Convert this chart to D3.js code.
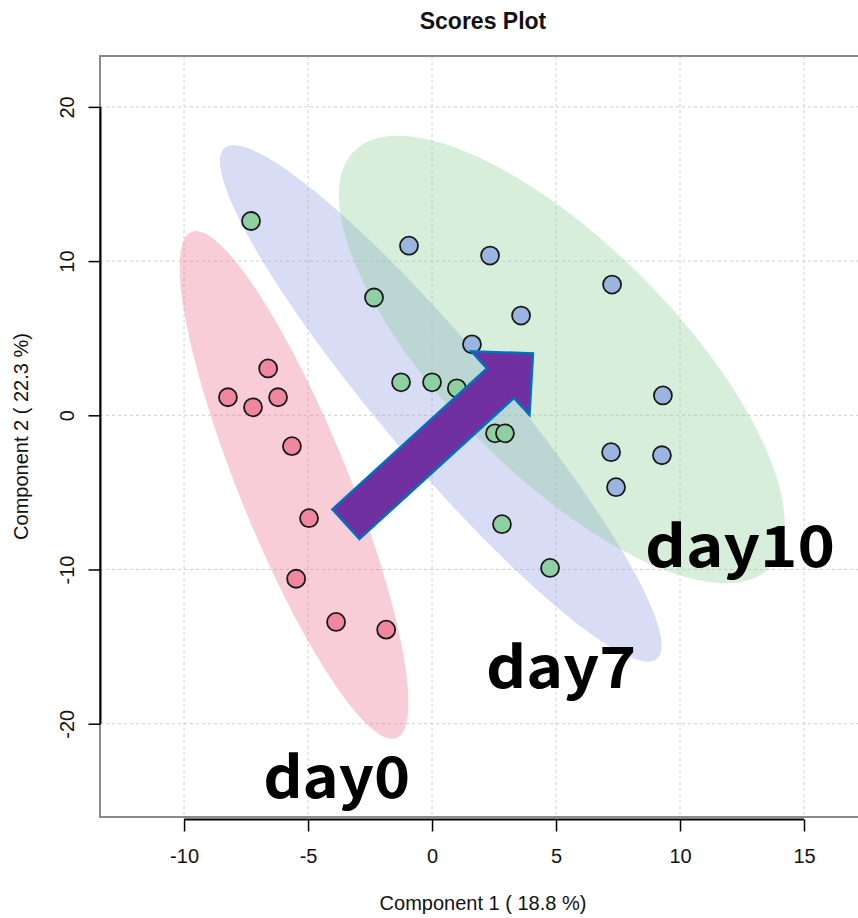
<!DOCTYPE html>
<html>
<head>
<meta charset="utf-8">
<script src="https://cdn.jsdelivr.net/npm/d3@7"></script>
<style>
  html, body { margin: 0; padding: 0; background: #fff; }
  svg { display: block; font-family: "Liberation Sans", Arial, sans-serif; }
</style>
</head>
<body>
<svg id="chart" width="858" height="918"></svg>
<script>
// scores (component 1, component 2)
const day0X = [-8.23, -7.22, -6.61, -6.21, -5.65, -4.96, -5.48, -3.87, -1.85];
const day0Y = [1.17, 0.52, 3.04, 1.17, -2.0, -6.67, -10.6, -13.4, -13.9];

const day7X = [-7.30, -2.34, -1.25, 0.0, 1.0, 2.54, 2.94, 2.82, 4.76];
const day7Y = [12.6, 7.64, 2.14, 2.14, 1.75, -1.17, -1.17, -7.06, -9.9];

const day10X = [-0.93, 2.34, 3.59, 1.61, 7.26, 9.31, 7.22, 7.42, 9.27];
const day10Y = [11.0, 10.36, 6.47, 4.6, 8.48, 1.29, -2.39, -4.66, -2.59];

const xTicks = [-10, -5, 0, 5, 10, 15];
const yTicks = [-20, -10, 0, 10, 20];

const groupNames = ['day0', 'day7', 'day10'];
// label anchor (left, baseline) in data units
const labelX = [-6.81, 2.18, 8.59];
const labelY = [-24.85, -17.67, -9.84];

// arrow annotation: tail -> tip, data units
const arrowFrom = [-3.47, -7.06];
const arrowTo = [4.07, 4.01];

document.addEventListener('DOMContentLoaded', () => {

    const svg = d3.select('#chart');
    const box = { left: 100, top: 56, right: 866, bottom: 817 };

    const x = d3.scaleLinear().domain([-13.39, 17.5]).range([box.left, box.right]);
    const y = d3.scaleLinear().domain([-26.05, 23.3]).range([box.bottom, box.top]);

    const groups = [
        { name: 'day0', xs: day0X, ys: day0Y, point: '#F0879F', ell: 'rgb(235,112,144)' },
        { name: 'day7', xs: day7X, ys: day7Y, point: '#8ED0A2', ell: 'rgb(144,155,226)' },
        { name: 'day10', xs: day10X, ys: day10Y, point: '#9AB5DF', ell: 'rgb(138,205,150)' }
    ];

    // 95% confidence ellipse from the group covariance
    function ellipsePoints(xs, ys) {
        const n = xs.length;
        const mx = d3.mean(xs), my = d3.mean(ys);
        let a = 0, b = 0, d = 0;
        for (let i = 0; i < n; i++) {
            const dx = xs[i] - mx, dy = ys[i] - my;
            a += dx * dx; b += dx * dy; d += dy * dy;
        }
        a /= n - 1; b /= n - 1; d /= n - 1;
        const m = (a + d) / 2, r = Math.sqrt(((a - d) / 2) ** 2 + b * b);
        const l1 = m + r, l2 = m - r;
        let v = Math.abs(b) > 1e-12 ? [b, l1 - a] : [1, 0];
        const len = Math.hypot(v[0], v[1]);
        v = [v[0] / len, v[1] / len];
        const w = [-v[1], v[0]];
        const t = Math.sqrt(5.991);
        const s1 = t * Math.sqrt(l1), s2 = t * Math.sqrt(Math.max(l2, 0));
        return d3.range(120).map(i => {
            const th = i / 120 * 2 * Math.PI;
            const c = Math.cos(th) * s1, s = Math.sin(th) * s2;
            return [mx + c * v[0] + s * w[0], my + c * v[1] + s * w[1]];
        });
    }

    // grid
    const grid = svg.append('g').attr('stroke', '#cfcfcf').attr('stroke-width', 1).attr('stroke-dasharray', '3,3');
    grid.selectAll('line.gx').data(xTicks).enter().append('line')
        .attr('x1', d => x(d)).attr('x2', d => x(d))
        .attr('y1', box.top).attr('y2', box.bottom);
    grid.selectAll('line.gy').data(yTicks).enter().append('line')
        .attr('y1', d => y(d)).attr('y2', d => y(d))
        .attr('x1', box.left).attr('x2', box.right);

    // ellipses
    const line = d3.line().x(p => x(p[0])).y(p => y(p[1])).curve(d3.curveLinearClosed);
    svg.append('g').selectAll('path')
        .data(groups)
        .enter()
        .append('path')
        .attr('d', g => line(ellipsePoints(g.xs, g.ys)))
        .attr('fill', g => g.ell)
        .attr('fill-opacity', 0.35);

    // points
    const pts = groups.flatMap(g => g.xs.map((v, i) => ({ x: v, y: g.ys[i], c: g.point })));
    svg.append('g').selectAll('circle')
        .data(pts)
        .enter()
        .append('circle')
        .attr('cx', d => x(d.x))
        .attr('cy', d => y(d.y))
        .attr('r', 9)
        .attr('fill', d => d.c)
        .attr('stroke', '#1a1a1a')
        .attr('stroke-width', 1.8);

    // box
    svg.append('rect')
        .attr('x', box.left).attr('y', box.top)
        .attr('width', box.right - box.left).attr('height', box.bottom - box.top)
        .attr('fill', 'none').attr('stroke', '#8a8a8a').attr('stroke-width', 2);

    const fmt = d => String(d);   // plain hyphen like R

    // x axis (R style, line only across the ticks)
    const gx = svg.append('g').attr('transform', 'translate(0,819.5)')
        .call(d3.axisBottom(x).tickValues(xTicks).tickSize(12).tickPadding(17).tickFormat(fmt));
    gx.select('.domain').remove();
    gx.append('line').attr('x1', x(-10)).attr('x2', x(15)).attr('stroke', '#000').attr('stroke-width', 2);
    gx.selectAll('.tick line').attr('stroke', '#000').attr('stroke-width', 1.5);
    gx.selectAll('text').attr('font-size', 20).attr('font-family', '"Liberation Sans", Arial, sans-serif').attr('fill', '#111');

    // y axis
    const gy = svg.append('g').attr('transform', 'translate(100.5,0)')
        .call(d3.axisLeft(y).tickValues(yTicks).tickSize(12).tickFormat(fmt));
    gy.select('.domain').remove();
    gy.append('line').attr('y1', y(20)).attr('y2', y(-20)).attr('stroke', '#000').attr('stroke-width', 2);
    gy.selectAll('.tick line').attr('stroke', '#000').attr('stroke-width', 1.5);
    gy.selectAll('text')
        .attr('x', null).attr('dy', null)
        .attr('transform', 'translate(-26.5,0) rotate(-90)')
        .attr('text-anchor', 'middle')
        .attr('font-size', 20).attr('font-family', '"Liberation Sans", Arial, sans-serif').attr('fill', '#111');

    // titles
    svg.append('text').attr('x', 483).attr('y', 29).attr('text-anchor', 'middle')
        .attr('font-size', 23).attr('font-weight', 'bold').attr('fill', '#111').text('Scores Plot');
    svg.append('text').attr('x', 483).attr('y', 910).attr('text-anchor', 'middle')
        .attr('font-size', 20).attr('fill', '#111').text('Component 1 ( 18.8 %)');
    svg.append('text').attr('transform', 'translate(28,436.5) rotate(-90)').attr('text-anchor', 'middle')
        .attr('font-size', 20).attr('fill', '#111').text('Component 2 ( 22.3 %)');

    // arrow
    const t0 = [x(arrowFrom[0]), y(arrowFrom[1])], t1 = [x(arrowTo[0]), y(arrowTo[1])];
    const L = Math.hypot(t1[0] - t0[0], t1[1] - t0[1]);
    const u = [(t1[0] - t0[0]) / L, (t1[1] - t0[1]) / L], nrm = [-u[1], u[0]];
    const hw = 20, hh = 43, hl = 44;
    const base = [t1[0] - u[0] * hl, t1[1] - u[1] * hl];
    const off = (p, k) => [p[0] + nrm[0] * k, p[1] + nrm[1] * k];
    const arrow = [off(t0, hw), off(base, hw), off(base, hh), t1, off(base, -hh), off(base, -hw), off(t0, -hw)];
    svg.append('path')
        .attr('d', 'M' + arrow.map(p => p.join(',')).join('L') + 'Z')
        .attr('fill', '#7030A0').attr('stroke', '#0070C0').attr('stroke-width', 2.5)
        .attr('stroke-linejoin', 'miter');

    // group labels
    const widths = [147, 150, 190];
    svg.append('g').selectAll('text')
        .data(groupNames)
        .enter()
        .append('text')
        .attr('x', (d, i) => x(labelX[i]))
        .attr('y', (d, i) => y(labelY[i]))
        .attr('font-family', '"Noto Sans CJK JP", "Noto Sans", sans-serif')
        .attr('font-weight', 'bold')
        .attr('font-size', 57)
        .attr('textLength', (d, i) => widths[i])
        .attr('lengthAdjust', 'spacingAndGlyphs')
        .attr('fill', '#000')
        .text(d => d);
});
</script>
</body>
</html>
